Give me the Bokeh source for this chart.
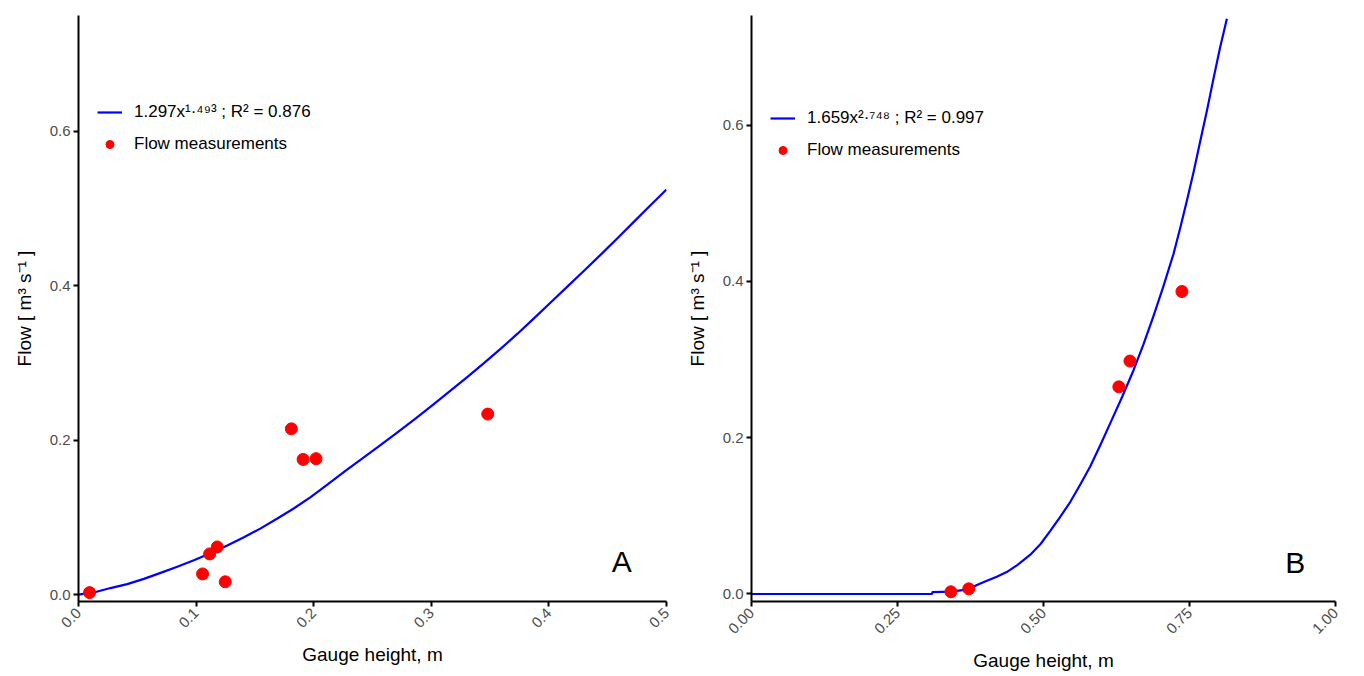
import math
from bokeh.plotting import figure
from bokeh.models import Range1d, FixedTicker, Legend, LegendItem, Label
from bokeh.layouts import row
from bokeh.embed import file_html
from bokeh.resources import INLINE

# ---------------- data ----------------
# Panel A: flow measurements
a_meas_x = [0.0094, 0.1055, 0.1115, 0.118, 0.1248, 0.181, 0.191, 0.202, 0.348]
a_meas_y = [0.0026, 0.0268, 0.0527, 0.0617, 0.0166, 0.2146, 0.175, 0.176, 0.2337]
# Panel A: fitted rating curve
a_fit_x = [0.0, 0.013, 0.0272, 0.0414, 0.0556, 0.0698, 0.084, 0.0981, 0.1123,
           0.1265, 0.1407, 0.1549, 0.1691, 0.1833, 0.1974, 0.2116, 0.2258, 0.24,
           0.2556, 0.2712, 0.2868, 0.3024, 0.3166, 0.3308, 0.345, 0.3591, 0.3733,
           0.3875, 0.4017, 0.4159, 0.4301, 0.4443, 0.4585, 0.4726, 0.4868, 0.5]
a_fit_y = [0.0, 0.0028, 0.0085, 0.0136, 0.0204, 0.0282, 0.0362, 0.0445, 0.0536,
           0.0636, 0.0743, 0.0858, 0.0985, 0.1118, 0.1262, 0.1425, 0.1590, 0.1748,
           0.1922, 0.2100, 0.2283, 0.2470, 0.2643, 0.2820, 0.3000, 0.3185, 0.3378,
           0.3580, 0.3785, 0.3990, 0.4195, 0.4405, 0.4617, 0.4832, 0.5048, 0.5245]

# Panel B: flow measurements
b_meas_x = [0.3414, 0.372, 0.629, 0.648, 0.737]
b_meas_y = [0.0028, 0.0066, 0.265, 0.298, 0.387]
# Panel B: fitted rating curve
b_fit_x = [0.0, 0.309, 0.31, 0.341, 0.372, 0.386, 0.40, 0.42, 0.437, 0.455, 0.477,
           0.495, 0.511, 0.528, 0.546, 0.563, 0.58, 0.597, 0.614, 0.634, 0.654,
           0.671, 0.688, 0.705, 0.7226, 0.734, 0.7455, 0.757, 0.768, 0.78, 0.791,
           0.802, 0.814]
b_fit_y = [0.0, 0.0, 0.0025, 0.003, 0.006, 0.0115, 0.016, 0.022, 0.028, 0.037,
           0.050, 0.064, 0.080, 0.098, 0.118, 0.140, 0.163, 0.190, 0.218, 0.251,
           0.286, 0.319, 0.355, 0.393, 0.435, 0.468, 0.503, 0.540, 0.578, 0.619,
           0.659, 0.698, 0.736]

# ticks
a_xticks = [0.0, 0.1, 0.2, 0.3, 0.4, 0.5]
a_xtick_labels = ["0.0", "0.1", "0.2", "0.3", "0.4", "0.5"]
b_xticks = [0.0, 0.25, 0.5, 0.75, 1.0]
b_xtick_labels = ["0.00", "0.25", "0.50", "0.75", "1.00"]
y_ticks = [0.0, 0.2, 0.4, 0.6]
y_tick_labels = ["0.0", "0.2", "0.4", "0.6"]

# texts
a_fit_label = "1.297x\u00b9\u00b7\u2074\u2079\u00b3 ; R\u00b2 = 0.876"
b_fit_label = "1.659x\u00b2\u00b7\u2077\u2074\u2078 ; R\u00b2 = 0.997"
points_label = "Flow measurements"
x_title = "Gauge height, m"
y_title = "Flow [ m\u00b3 s\u207b\u00b9 ]"
panel_letters = ["A", "B"]

FONT = "Liberation Sans"
LINE_COLOR = "#0000FF"
POINT_COLOR = "#FF0000"
TICK_COLOR = "#4D4D4D"


def make_panel(width, height, ml, mr, mt, mb, xr, yr, xticks, xlabels,
               fit_x, fit_y, meas_x, meas_y, fit_label, legend_loc,
               letter, letter_pos):
    p = figure(width=width, height=height,
               x_range=Range1d(*xr), y_range=Range1d(*yr),
               output_backend="svg", toolbar_location=None,
               min_border_left=ml, min_border_right=mr,
               min_border_top=mt, min_border_bottom=mb)
    p.grid.visible = False
    p.outline_line_color = None
    p.background_fill_color = "white"
    p.border_fill_color = "white"

    for ax in (p.xaxis[0], p.yaxis[0]):
        ax.axis_line_width = 2
        ax.axis_line_color = "black"
        ax.major_tick_line_width = 2
        ax.major_tick_line_color = "black"
        ax.major_tick_out = 5
        ax.major_tick_in = 0
        ax.minor_tick_out = 0
        ax.minor_tick_in = 0
        ax.major_label_text_font = FONT
        ax.major_label_text_font_size = "15px"
        ax.major_label_text_color = TICK_COLOR
        ax.axis_label_text_font = FONT
        ax.axis_label_text_font_size = "19px"
        ax.axis_label_text_font_style = "normal"
        ax.axis_label_text_color = "black"

    p.xaxis.ticker = FixedTicker(ticks=xticks)
    p.xaxis.major_label_overrides = {t: l for t, l in zip(xticks, xlabels)}
    p.xaxis.major_label_orientation = math.pi / 4
    p.xaxis.axis_label = x_title
    p.xaxis.axis_label_standoff = 9
    p.xaxis.major_label_standoff = 4

    p.yaxis.ticker = FixedTicker(ticks=y_ticks)
    p.yaxis.major_label_overrides = {t: l for t, l in zip(y_ticks, y_tick_labels)}
    p.yaxis.axis_label = y_title
    p.yaxis.axis_label_standoff = 12
    p.yaxis.major_label_standoff = 3

    r_line = p.line(fit_x, fit_y, line_color=LINE_COLOR, line_width=2.2,
                    line_join="round")
    r_pts = p.scatter(meas_x, meas_y, size=12, fill_color=POINT_COLOR,
                      line_color=POINT_COLOR)

    legend = Legend(items=[LegendItem(label=fit_label, renderers=[r_line]),
                           LegendItem(label=points_label, renderers=[r_pts])],
                    location=legend_loc, orientation="vertical",
                    glyph_width=25, glyph_height=20, label_height=20,
                    label_standoff=12, spacing=12, padding=0, margin=0,
                    border_line_color=None, background_fill_alpha=0,
                    label_text_font=FONT, label_text_font_size="17px",
                    label_text_color="black")
    p.add_layout(legend)

    p.add_layout(Label(x=letter_pos[0], y=letter_pos[1], text=letter,
                       text_font=FONT, text_font_size="30px",
                       text_align="center", text_baseline="middle",
                       text_color="black"))
    return p


# Panel A geometry (frame: x 78..666, y 7..601; y=0 at 594)
pA = make_panel(680, 676, 78, 14, 7, 75,
                (0.0, 0.5), (-0.0089, 0.7497),
                a_xticks, a_xtick_labels,
                a_fit_x, a_fit_y, a_meas_x, a_meas_y, a_fit_label,
                (19, 447), panel_letters[0], (0.462, 0.0425))

# Panel B geometry (frame: x 751..1335, y 15..602; y=0 at 594.5)
pB = make_panel(684, 676, 71, 29, 15, 74,
                (0.0, 1.0), (-0.0096, 0.7401),
                b_xticks, b_xtick_labels,
                b_fit_x, b_fit_y, b_meas_x, b_meas_y, b_fit_label,
                (19, 441), panel_letters[1], (0.931, 0.040))

layout = row(pA, pB)
open("out.html", "w").write(file_html(layout, INLINE))
